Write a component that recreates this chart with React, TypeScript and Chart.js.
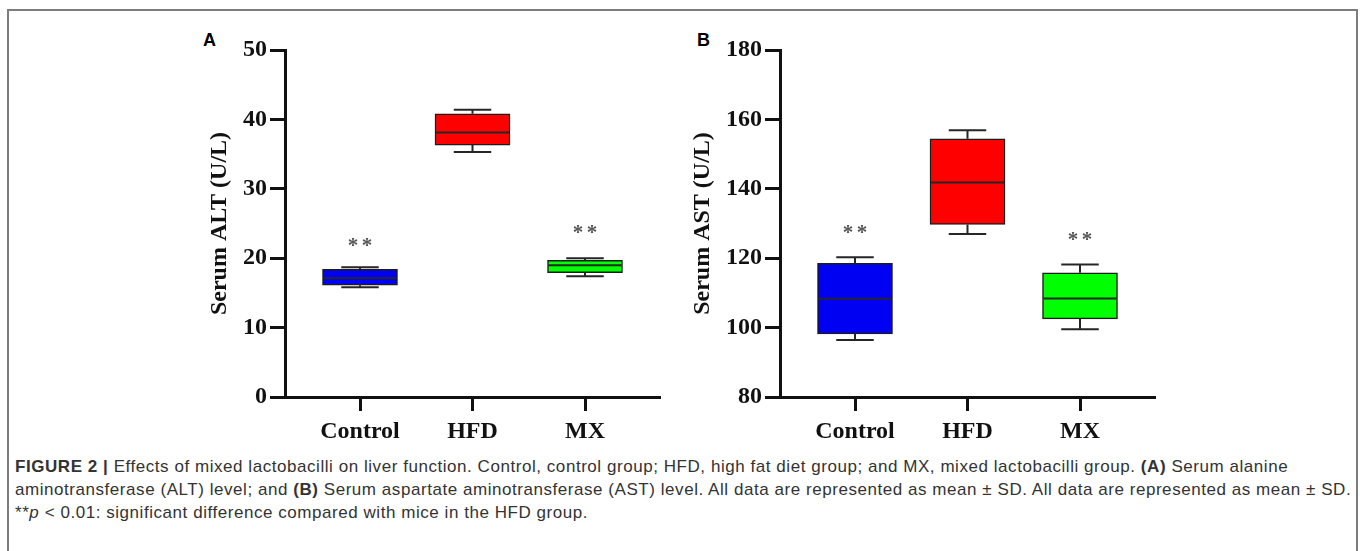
import React, { useEffect, useRef } from "react";
import { Chart, registerables } from "chart.js";

Chart.register(...registerables);

// Groups on the x axis
const groups = ["Control", "HFD", "MX"];
const groupColors = ["#0000f2", "#ff0000", "#00ff00"];

// Panel A: Serum ALT (U/L) box summaries
const altMin = [15.8, 35.3, 17.4];
const altQ1 = [16.1, 36.3, 17.9];
const altMedian = [17.1, 38.1, 19.0];
const altQ3 = [18.4, 40.8, 19.7];
const altMax = [18.7, 41.4, 20.0];
const altStars = [22.3, null, 24.2];
const altTicks = [0, 10, 20, 30, 40, 50];

// Panel B: Serum AST (U/L) box summaries
const astMin = [96.4, 127.0, 99.5];
const astQ1 = [98.2, 129.7, 102.5];
const astMedian = [108.3, 141.8, 108.4];
const astQ3 = [118.5, 154.4, 115.8];
const astMax = [120.3, 156.9, 118.2];
const astStars = [128.3, null, 126.5];
const astTicks = [80, 100, 120, 140, 160, 180];

type Stats = {
  min: number[];
  q1: number[];
  median: number[];
  q3: number[];
  max: number[];
  stars: (number | null)[];
};

const INK = "#111111";
const SERIF = "'Liberation Serif', 'Times New Roman', serif";

// Draws whiskers, caps, median lines and the significance stars on top of the floating bars.
function whiskerPlugin(stats: Stats) {
  return {
    id: "boxWhiskers",
    afterDatasetsDraw(chart: any) {
      const { ctx } = chart;
      const yScale = chart.scales.y;
      const meta = chart.getDatasetMeta(0);
      const py = (v: number) => yScale.getPixelForValue(v);
      meta.data.forEach((bar: any, i: number) => {
        const x = bar.x;
        const half = bar.width / 2;
        const cap = bar.width * 0.25;
        ctx.save();
        ctx.strokeStyle = "#262626";
        ctx.lineWidth = 2;
        ctx.beginPath();
        ctx.moveTo(x, py(stats.q3[i]));
        ctx.lineTo(x, py(stats.max[i]));
        ctx.moveTo(x - cap, py(stats.max[i]));
        ctx.lineTo(x + cap, py(stats.max[i]));
        ctx.moveTo(x, py(stats.q1[i]));
        ctx.lineTo(x, py(stats.min[i]));
        ctx.moveTo(x - cap, py(stats.min[i]));
        ctx.lineTo(x + cap, py(stats.min[i]));
        ctx.moveTo(x - half + 1, py(stats.median[i]));
        ctx.lineTo(x + half - 1, py(stats.median[i]));
        ctx.stroke();
        const star = stats.stars[i];
        if (star != null) {
          const sy = py(star);
          ctx.fillStyle = "#555555";
          ctx.font = `bold 21px ${SERIF}`;
          ctx.textAlign = "center";
          ctx.textBaseline = "alphabetic";
          ctx.fillText("*", x - 7, sy + 10);
          ctx.fillText("*", x + 7, sy + 10);
        }
        ctx.restore();
      });
    },
  };
}

function buildConfig(
  stats: Stats,
  ticks: number[],
  title: string,
  titleGap: number
): any {
  return {
    type: "bar",
    data: {
      datasets: [
        {
          data: groups.map((_, i) => ({ x: i, y: [stats.q1[i], stats.q3[i]] })),
          backgroundColor: groupColors,
          borderColor: "#1c1c1c",
          borderWidth: 1.5,
          borderSkipped: false,
          barThickness: 75,
        },
      ],
    },
    options: {
      responsive: false,
      animation: false,
      devicePixelRatio: 1,
      layout: { padding: { top: 20, right: 20, left: 0, bottom: 0 } },
      plugins: {
        legend: { display: false },
        tooltip: { enabled: false },
      },
      scales: {
        x: {
          type: "linear",
          offset: false,
          min: -2 / 3,
          max: 8 / 3,
          afterBuildTicks: (axis: any) => {
            axis.ticks = groups.map((_, i) => ({ value: i }));
          },
          afterFit: (axis: any) => {
            axis.height = 53;
          },
          ticks: {
            callback: (v: number) => groups[v] ?? "",
            font: { family: SERIF, size: 24, weight: "bold" },
            color: INK,
            padding: 6,
            maxRotation: 0,
            autoSkip: false,
          },
          grid: {
            offset: false,
            drawOnChartArea: false,
            drawTicks: true,
            tickLength: 14,
            tickWidth: 3,
            tickColor: INK,
          },
          border: { display: true, width: 3, color: INK },
        },
        y: {
          min: ticks[0],
          max: ticks[ticks.length - 1],
          afterBuildTicks: (axis: any) => {
            axis.ticks = ticks.map((v) => ({ value: v }));
          },
          afterFit: (axis: any) => {
            axis.width = 135;
          },
          ticks: {
            font: { family: SERIF, size: 24, weight: "bold" },
            color: INK,
            padding: 3,
          },
          grid: {
            drawOnChartArea: false,
            drawTicks: true,
            tickLength: 15,
            tickWidth: 3,
            tickColor: INK,
          },
          border: { display: true, width: 3, color: INK },
          title: {
            display: true,
            text: title,
            font: { family: SERIF, size: 24, weight: "bold" },
            color: INK,
            padding: { top: titleGap, bottom: 0 },
          },
        },
      },
    },
    plugins: [whiskerPlugin(stats)],
  };
}

function BoxPanel(props: {
  stats: Stats;
  ticks: number[];
  title: string;
  titleGap: number;
  left: number;
}) {
  const ref = useRef<HTMLCanvasElement | null>(null);
  useEffect(() => {
    if (!ref.current) return;
    const chart = new Chart(
      ref.current,
      buildConfig(props.stats, props.ticks, props.title, props.titleGap)
    );
    return () => chart.destroy();
  }, []);
  return (
    <canvas
      ref={ref}
      width={530}
      height={420}
      style={{ position: "absolute", left: props.left, top: 30, width: 530, height: 420 }}
    />
  );
}

const panelLabel: React.CSSProperties = {
  position: "absolute",
  top: 31,
  fontFamily: "'Liberation Sans', Arial, sans-serif",
  fontWeight: "bold",
  fontSize: 18,
  lineHeight: "18px",
  color: "#000",
};

export default function App() {
  const altStats: Stats = {
    min: altMin,
    q1: altQ1,
    median: altMedian,
    q3: altQ3,
    max: altMax,
    stars: altStars,
  };
  const astStats: Stats = {
    min: astMin,
    q1: astQ1,
    median: astMedian,
    q3: astQ3,
    max: astMax,
    stars: astStars,
  };
  return (
    <div
      style={{
        position: "fixed",
        left: 0,
        top: 0,
        width: 1360,
        height: 551,
        background: "#fff",
        overflow: "hidden",
      }}
    >
      <div
        style={{
          position: "absolute",
          left: 7,
          top: 9,
          width: 1347,
          height: 700,
          border: "2px solid #7d7d7d",
        }}
      />
      <div style={{ ...panelLabel, left: 203 }}>A</div>
      <div style={{ ...panelLabel, left: 697 }}>B</div>
      <BoxPanel stats={altStats} ticks={altTicks} title="Serum ALT (U/L)" titleGap={55} left={150} />
      <BoxPanel stats={astStats} ticks={astTicks} title="Serum AST (U/L)" titleGap={43} left={645} />
      <div
        style={{
          position: "absolute",
          left: 15,
          top: 455,
          fontFamily: "'Liberation Sans', Arial, sans-serif",
          fontSize: 17,
          letterSpacing: "0.55px",
          lineHeight: "23px",
          color: "#333",
          whiteSpace: "nowrap",
        }}
      >
        <div>
          <b>FIGURE 2 |</b> Effects of mixed lactobacilli on liver function. Control, control group;
          HFD, high fat diet group; and MX, mixed lactobacilli group. <b>(A)</b> Serum alanine
        </div>
        <div>
          aminotransferase (ALT) level; and <b>(B)</b> Serum aspartate aminotransferase (AST) level.
          All data are represented as mean ± SD. All data are represented as mean ± SD.
        </div>
        <div>
          **<i>p</i> &lt; 0.01: significant difference compared with mice in the HFD group.
        </div>
      </div>
    </div>
  );
}
